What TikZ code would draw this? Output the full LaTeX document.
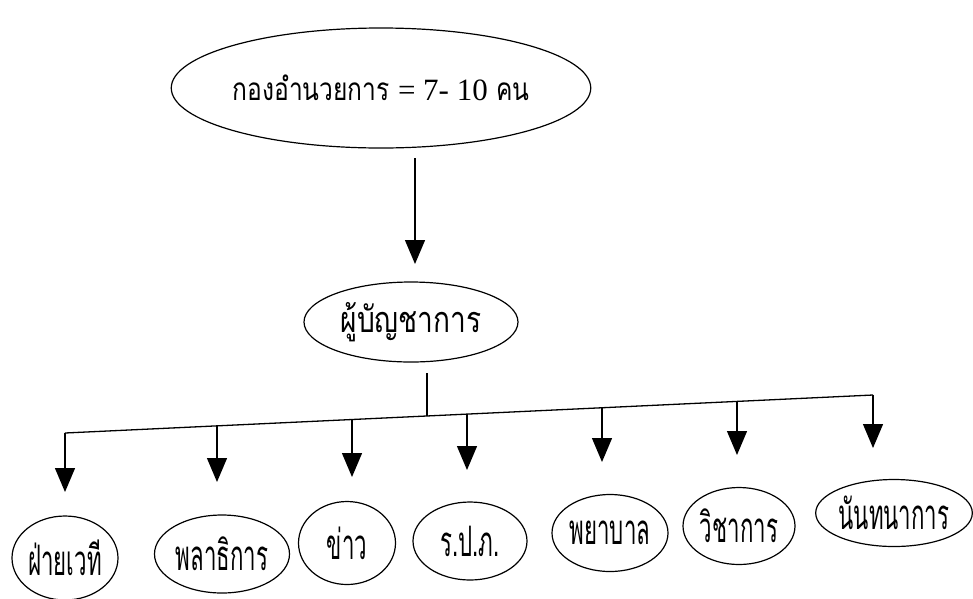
\documentclass[tikz,border=0pt]{standalone}
\usepackage{fontspec}
\setmainfont{Liberation Serif}
\newfontfamily\thaiA[Script=Thai,FakeStretch=0.78]{Loma}
\newfontfamily\thaiB[Script=Thai,FakeStretch=0.53]{Loma}
\usetikzlibrary{shapes.geometric,arrows.meta}
\begin{document}
\begin{tikzpicture}[x=1pt,y=-1pt,
  oval/.style={ellipse,draw,line width=1.2pt,inner sep=0pt},
  ln/.style={line width=1.3pt},
  arr/.style={line width=1.3pt,-{Triangle[width=20pt,length=24pt]}},
  ttop/.style={font=\thaiA\fontsize{31.5}{33}\selectfont},
  tmid/.style={font=\thaiA\fontsize{36}{38}\selectfont},
  tbot/.style={font=\thaiB\fontsize{42}{44}\selectfont}]
\useasboundingbox (0,0) rectangle (973,598);
% top
\node[oval,ttop,minimum width=368pt,minimum height=120pt] (top) at (381,88)
  {กองอำนวยการ {\rmfamily\fontsize{31}{33}\selectfont = 7- 10} คน};
\node[oval,tmid,minimum width=214pt,minimum height=80pt] (chief) at (411,322) {ผู้บัญชาการ};
% bottom
\node[oval,tbot,minimum width=106pt,minimum height=84pt] (b1) at (65,558) {ฝ่ายเวที};
\node[oval,tbot,minimum width=135pt,minimum height=78pt] (b2) at (222,554) {พลาธิการ};
\node[oval,tbot,minimum width=97pt,minimum height=83pt] (b3) at (347,543) {ข่าว};
\node[oval,tbot,minimum width=114pt,minimum height=78pt] (b4) at (470,541) {ร.ป.ภ.};
\node[oval,tbot,minimum width=116pt,minimum height=77pt] (b5) at (610,533) {พยาบาล};
\node[oval,tbot,minimum width=112pt,minimum height=77pt] (b6) at (739,526) {วิชาการ};
\node[oval,tbot,minimum width=155pt,minimum height=67pt] (b7) at (894,513) {นันทนาการ};
% connectors
\coordinate (a1) at (415,158);
\coordinate (a2) at (415,264);
\draw[arr] (a1) -- (a2);
\coordinate (s1) at (427,373);
\coordinate (s2) at (427,416);
\draw[ln] (s1) -- (s2);
\coordinate (d1) at (65,433);
\coordinate (d2) at (217,426);
\coordinate (d3) at (352,419);
\coordinate (d4) at (467,414);
\coordinate (d5) at (602,408);
\coordinate (d6) at (737,401);
\coordinate (d7) at (873,395);
\draw[ln] (d1) -- (d7);
\draw[arr] (d1) -- (65,492);
\draw[arr] (d2) -- (217,482);
\draw[arr] (d3) -- (352,477);
\draw[arr] (d4) -- (467,470);
\draw[arr] (d5) -- (602,462);
\draw[arr] (d6) -- (737,455);
\draw[arr] (d7) -- (873,448);
\end{tikzpicture}
\end{document}
